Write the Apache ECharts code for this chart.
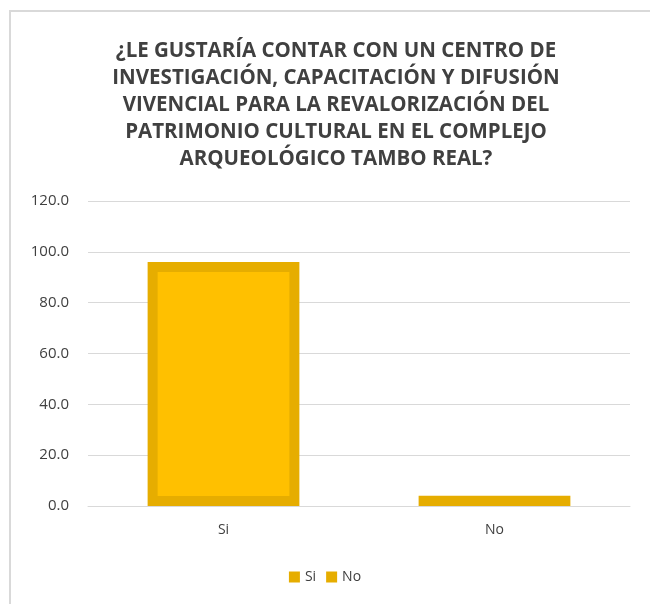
<!DOCTYPE html>
<html lang="es">
<head>
    <meta charset="utf-8">
    <title>Tambo Real</title>
    <script src="https://cdn.jsdelivr.net/npm/echarts@6/dist/echarts.min.js"></script>
    <style>
        html, body { margin: 0; padding: 0; background: #fff; }
        #chart { width: 650px; height: 604px; }
    </style>
</head>
<body>
<div id="chart"></div>
<script>
    var tituloLineas = [
        '¿LE GUSTARÍA CONTAR CON UN CENTRO DE',
        'INVESTIGACIÓN, CAPACITACIÓN Y DIFUSIÓN',
        'VIVENCIAL PARA LA REVALORIZACIÓN DEL',
        'PATRIMONIO CULTURAL EN EL COMPLEJO',
        'ARQUEOLÓGICO TAMBO REAL?'
    ];
    var categorias = ['Si', 'No'];
    var valores = [96, 4];

    var chart = echarts.init(document.getElementById('chart'));

    var option = {
        backgroundColor: '#fff',
        animation: false,
        graphic: [{
            type: 'rect',
            shape: { x: 10, y: 11, width: 700, height: 700 },
            style: { fill: 'none', stroke: '#d9d9d9', lineWidth: 2 },
            silent: true
        }],
        title: {
            text: tituloLineas.join('\n'),
            left: 331,
            textAlign: 'center',
            top: 33,
            textStyle: {
                fontFamily: 'Open Sans',
                fontWeight: 'bold',
                fontSize: 20.5,
                lineHeight: 27,
                color: '#404040'
            }
        },
        grid: { left: 88, right: 20, top: 201, bottom: 98 },
        legend: {
            bottom: 15,
            left: 'center',
            icon: 'rect',
            itemWidth: 11,
            itemHeight: 11,
            itemGap: 10,
            itemStyle: { color: '#e6ad00', borderWidth: 0 },
            textStyle: { fontFamily: 'Open Sans', fontSize: 14, color: '#404040' },
            data: categorias
        },
        xAxis: {
            type: 'category',
            data: categorias,
            axisLine: { lineStyle: { color: '#d9d9d9', width: 1 } },
            axisTick: { show: false },
            axisLabel: { fontFamily: 'Open Sans', fontSize: 14, color: '#404040', margin: 17 }
        },
        yAxis: {
            type: 'value',
            min: 0,
            max: 120,
            interval: 20,
            axisLine: { show: false },
            axisTick: { show: false },
            splitLine: { lineStyle: { color: '#d9d9d9' } },
            axisLabel: {
                fontFamily: 'Open Sans',
                fontSize: 15,
                color: '#404040',
                margin: 19,
                formatter: function (v) { return v.toFixed(1); }
            }
        },
        series: categorias.map(function (c, i) {
            var d = [null, null];
            d[i] = valores[i];
            return {
                name: c,
                type: 'bar',
                stack: 'total',
                barWidth: '56%',
                data: d,
                itemStyle: {
                    color: '#ffc000',
                    borderColor: '#e6ad00',
                    borderWidth: 10
                }
            };
        })
    };

    chart.setOption(option);
</script>
</body>
</html>
